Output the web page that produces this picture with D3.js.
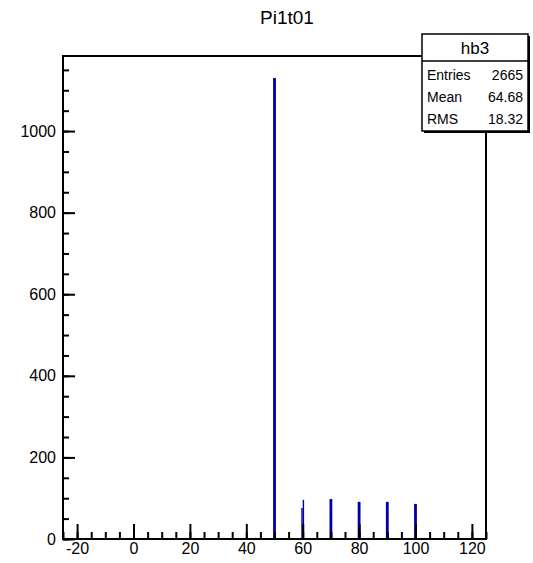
<!DOCTYPE html>
<html>
<head>
<meta charset="utf-8">
<script src="https://cdn.jsdelivr.net/npm/d3@7"></script>
<style>
  html, body { margin: 0; padding: 0; background: #fff; }
  svg { display: block; font-family: "Liberation Sans", Arial, Helvetica, sans-serif; }
</style>
</head>
<body>
<svg id="chart" width="533" height="563"></svg>
<script>
// Histogram hb3: bin edges and contents
const binLow  = [49.5, 59.5, 60.0, 69.5, 79.5, 89.5, 99.5];
const binHigh = [50.5, 60.0, 60.5, 70.5, 80.5, 90.5, 100.5];
const binCount = [1130, 76, 96, 98, 91, 91, 86];

const xTicks = [-20, 0, 20, 40, 60, 80, 100, 120];
const yTicks = [0, 200, 400, 600, 800, 1000];

const statNames  = ["Entries", "Mean", "RMS"];
const statValues = ["2665", "64.68", "18.32"];
const histName = "hb3";
const title = "Pi1t01";

const svg = d3.select("#chart");
const frame = { left: 63, right: 486, top: 56, bottom: 539 };

const x = d3.scaleLinear().domain([-25, 125]).range([frame.left, frame.right]);
const y = d3.scaleLinear().domain([0, 1184]).range([frame.bottom, frame.top]);

// Histogram bars
const bins = binLow.map((lo, i) => ({ lo, hi: binHigh[i], n: binCount[i] }));
svg.append("g").selectAll("rect").data(bins).join("rect")
  .attr("x", d => x(d.lo))
  .attr("width", d => x(d.hi) - x(d.lo))
  .attr("y", d => y(d.n))
  .attr("height", d => y(0) - y(d.n))
  .attr("fill", "#0000a8");

// Frame
svg.append("rect")
  .attr("x", frame.left).attr("y", frame.top)
  .attr("width", frame.right - frame.left)
  .attr("height", frame.bottom - frame.top)
  .attr("fill", "none").attr("stroke", "#000").attr("stroke-width", 2);

const plain = d => String(d);

// X axis: major ticks every 20, minor every 5, pointing into the frame
const xAxisG = svg.append("g").attr("transform", `translate(0,${frame.bottom})`);
xAxisG.append("g")
  .call(d3.axisBottom(x).tickValues(d3.range(-25, 126, 5)).tickSize(-7).tickFormat(""))
  .call(g => g.select(".domain").remove())
  .call(g => g.selectAll("line").attr("stroke-width", 2));
xAxisG.append("g")
  .call(d3.axisBottom(x).tickValues(xTicks).tickSize(-15).tickPadding(3).tickFormat(plain))
  .call(g => g.select(".domain").remove())
  .call(g => g.selectAll("line").attr("stroke-width", 2))
  .call(g => g.selectAll("text").attr("font-size", 16).attr("fill", "#000")
    .attr("font-family", "'Liberation Sans', Arial, sans-serif").attr("y", 4));

// Y axis: major ticks every 200, minor every 50
const yAxisG = svg.append("g").attr("transform", `translate(${frame.left},0)`);
yAxisG.append("g")
  .call(d3.axisLeft(y).tickValues(d3.range(0, 1151, 50)).tickSize(-6).tickFormat(""))
  .call(g => g.select(".domain").remove())
  .call(g => g.selectAll("line").attr("stroke-width", 2));
yAxisG.append("g")
  .call(d3.axisLeft(y).tickValues(yTicks).tickSize(-12).tickPadding(8).tickFormat(plain))
  .call(g => g.select(".domain").remove())
  .call(g => g.selectAll("line").attr("stroke-width", 2))
  .call(g => g.selectAll("text").attr("font-size", 16).attr("fill", "#000")
    .attr("font-family", "'Liberation Sans', Arial, sans-serif").attr("x", -7));

// Title
svg.append("text")
  .attr("x", 287).attr("y", 24)
  .attr("text-anchor", "middle")
  .attr("font-size", 19)
  .text(title);

// Statistics box
const box = { x: 422, y: 34, w: 106, h: 97, head: 27 };
svg.append("rect")
  .attr("x", box.x + 2).attr("y", box.y + 2)
  .attr("width", box.w).attr("height", box.h)
  .attr("fill", "#000");
svg.append("rect")
  .attr("x", box.x).attr("y", box.y)
  .attr("width", box.w).attr("height", box.h)
  .attr("fill", "#fff").attr("stroke", "#000").attr("stroke-width", 1.5);
svg.append("line")
  .attr("x1", box.x).attr("x2", box.x + box.w)
  .attr("y1", box.y + box.head).attr("y2", box.y + box.head)
  .attr("stroke", "#000").attr("stroke-width", 1.5);
svg.append("text")
  .attr("x", box.x + box.w / 2).attr("y", box.y + 20)
  .attr("text-anchor", "middle").attr("font-size", 17)
  .text(histName);

const rowY = d3.scalePoint().domain(statNames).range([box.y + 46, box.y + 90]);
const rows = svg.append("g").selectAll("g").data(statNames).join("g");
rows.append("text")
  .attr("x", box.x + 5).attr("y", d => rowY(d))
  .attr("font-size", 14)
  .text(d => d);
rows.append("text")
  .attr("x", box.x + box.w - 5).attr("y", d => rowY(d))
  .attr("text-anchor", "end").attr("font-size", 14)
  .text((d, i) => statValues[i]);
</script>
</body>
</html>
